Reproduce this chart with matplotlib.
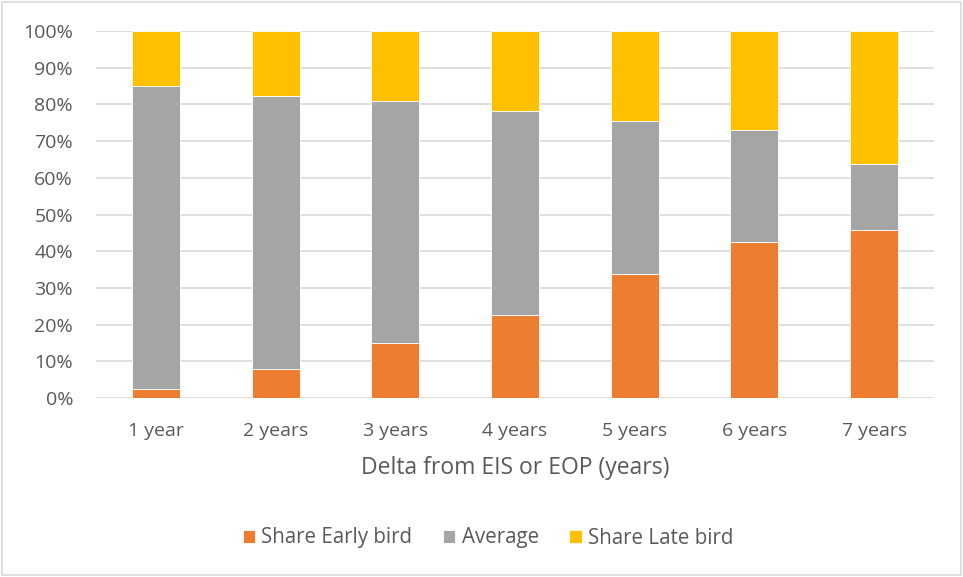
import matplotlib
matplotlib.use("Agg")
import matplotlib.pyplot as plt
from matplotlib.patches import Rectangle
from matplotlib.ticker import FuncFormatter

categories = ["1 year", "2 years", "3 years", "4 years", "5 years", "6 years", "7 years"]
early = [2.5, 7.9, 14.9, 22.5, 33.7, 42.4, 45.7]
average_top = [84.9, 82.4, 80.8, 78.1, 75.6, 72.9, 63.8]
average = [a - e for a, e in zip(average_top, early)]
late = [100 - a for a in average_top]

c_early = "#ED7D31"
c_avg = "#A5A5A5"
c_late = "#FFC000"
txt = "#595959"

plt.rcParams["font.family"] = ["Open Sans", "DejaVu Sans"]

fig = plt.figure(figsize=(9.63, 5.77), dpi=100)
ax = fig.add_axes([96 / 963, 1 - 398 / 577, (934 - 96) / 963, (398 - 31) / 577])

x = list(range(len(categories)))
w = 0.4
ax.bar(x, early, w, color=c_early, edgecolor="white", linewidth=0.6, label="Share Early bird", zorder=3)
ax.bar(x, average, w, bottom=early, color=c_avg, edgecolor="white", linewidth=0.6, label="Average", zorder=3)
ax.bar(x, late, w, bottom=average_top, color=c_late, edgecolor="white", linewidth=0.6, label="Share Late bird", zorder=3)

ax.set_xlim(-0.5, len(categories) - 0.5)
ax.set_ylim(0, 100)
ax.set_yticks(range(0, 101, 10))
ax.yaxis.set_major_formatter(FuncFormatter(lambda v, p: f"{int(v)}%"))
ax.set_xticks(x)
ax.set_xticklabels(categories)
ax.grid(axis="y", color="#D9D9D9", linewidth=1.2, zorder=0)
ax.tick_params(axis="both", length=0, labelsize=14, colors=txt)
ax.tick_params(axis="y", pad=16.5)
ax.tick_params(axis="x", pad=17)
for s in ax.spines.values():
    s.set_visible(False)

ax.set_xlabel("Delta from EIS or EOP (years)", fontsize=16.5, color=txt, labelpad=12)

fig.legend(loc="center", bbox_to_anchor=(488 / 963, 1 - 538 / 577), ncol=3, frameon=False,
           fontsize=14.8, labelcolor=txt, handlelength=0.6, handleheight=0.6,
           columnspacing=1.5, handletextpad=0.3)

fig.patches.append(Rectangle((0.002, 0.003), 0.996, 0.994, transform=fig.transFigure,
                             fill=False, edgecolor="#D9D9D9", linewidth=1.2))

fig.savefig("out.png", dpi=100, facecolor="white")
